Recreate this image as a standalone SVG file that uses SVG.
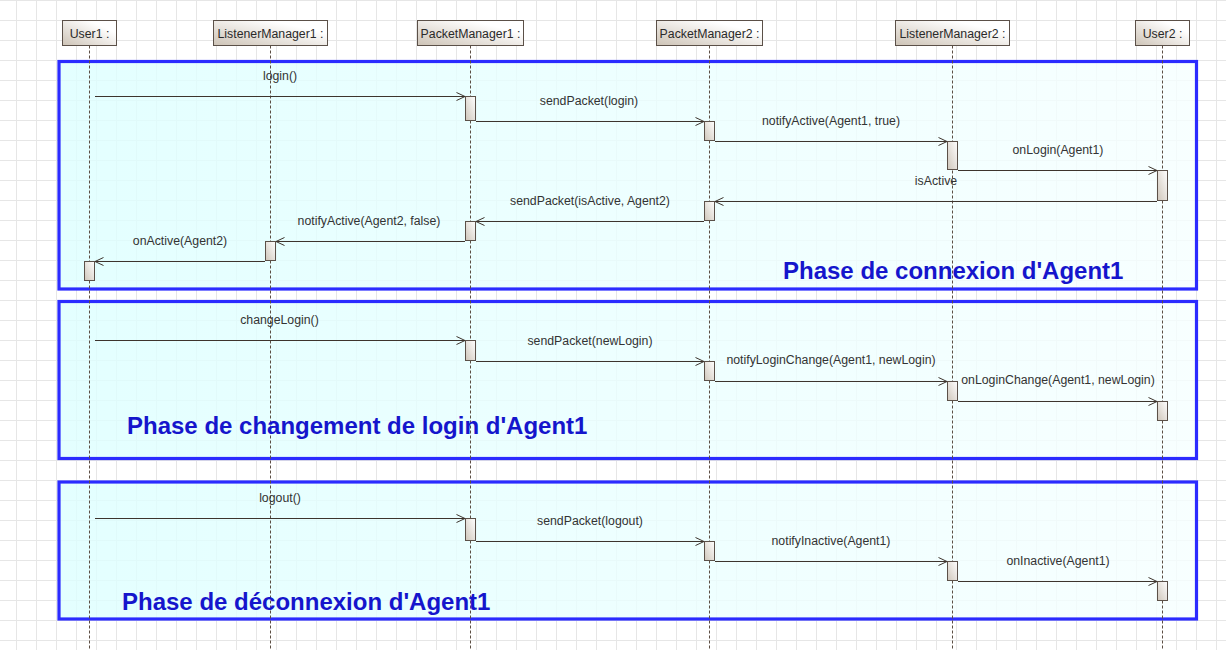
<svg xmlns="http://www.w3.org/2000/svg" width="1226" height="650" viewBox="0 0 1226 650">
<defs>
<pattern id="grid" x="16" y="0" width="20" height="20" patternUnits="userSpaceOnUse">
<path d="M0.5,0 V20 M0,0.5 H20" fill="none" stroke="#e6e6e6" stroke-width="1"/>
</pattern>
<linearGradient id="phaseFill" x1="0" y1="0" x2="1" y2="0">
<stop offset="0" stop-color="#ddffff"/>
<stop offset="1" stop-color="#f6ffff"/>
</linearGradient>
<linearGradient id="headFill" x1="0" y1="1" x2="1" y2="0">
<stop offset="0" stop-color="#cdc3b6"/>
<stop offset="0.75" stop-color="#ffffff"/>
<stop offset="1" stop-color="#ffffff"/>
</linearGradient>
<linearGradient id="actFill" x1="0" y1="1" x2="1" y2="0">
<stop offset="0" stop-color="#cfc6ba"/>
<stop offset="1" stop-color="#ffffff"/>
</linearGradient>
<marker id="arr" markerWidth="11" markerHeight="10" refX="9" refY="4.5" orient="auto" markerUnits="userSpaceOnUse">
<path d="M0.5,0.5 L9,4.5 L0.5,8.5" fill="none" stroke="#3d342d" stroke-width="1"/>
</marker>
</defs>
<style>
.head{fill:url(#headFill);stroke:#5b5048;stroke-width:1}
.headtxt{font-family:"Liberation Sans",Arial,sans-serif;font-size:12.3px;fill:#2a2a2a;text-anchor:middle}
.life{stroke:#5b4d42;stroke-width:1;stroke-dasharray:3,2;fill:none}
.phase{fill:url(#phaseFill);fill-opacity:0.82;stroke:#2b2bff;stroke-width:3.2}
.ptitle{font-family:"Liberation Sans",Arial,sans-serif;font-size:24px;font-weight:bold;fill:#1515cc}
.act{fill:url(#actFill);stroke:#5b5048;stroke-width:1}
.msg{stroke:#3d342d;stroke-width:1;fill:none;marker-end:url(#arr)}
.lbl{font-family:"Liberation Sans",Arial,sans-serif;font-size:12.3px;fill:#333;text-anchor:middle}
</style>
<rect x="0" y="0" width="1226" height="650" fill="#ffffff"/>
<rect x="0" y="0" width="1226" height="650" fill="url(#grid)"/>

<g id="phases">
<g id="phase1"><rect class="phase" x="59" y="61.5" width="1137.5" height="227.5"/></g>
<g id="phase2"><rect class="phase" x="59" y="301.5" width="1137.5" height="157"/></g>
<g id="phase3"><rect class="phase" x="59" y="482" width="1137.5" height="137"/></g>
</g>

<g id="lifelines">
<line class="life" x1="89.5" y1="45.5" x2="89.5" y2="650"/>
<line class="life" x1="270.5" y1="45.5" x2="270.5" y2="650"/>
<line class="life" x1="470.5" y1="45.5" x2="470.5" y2="650"/>
<line class="life" x1="709.5" y1="45.5" x2="709.5" y2="650"/>
<line class="life" x1="952.5" y1="45.5" x2="952.5" y2="650"/>
<line class="life" x1="1162.5" y1="45.5" x2="1162.5" y2="650"/>
</g>

<g id="User1">
<rect class="head" x="62.5" y="20.5" width="54" height="25"/>
<text class="headtxt" x="89.5" y="37.5">User1 :</text>
<rect class="act" x="84.5" y="261.5" width="10" height="19"/>
</g>
<g id="ListenerManager1">
<rect class="head" x="213.5" y="20.5" width="114" height="25"/>
<text class="headtxt" x="270.5" y="37.5">ListenerManager1 :</text>
<rect class="act" x="265.5" y="241.5" width="10" height="19"/>
</g>
<g id="PacketManager1">
<rect class="head" x="417.5" y="20.5" width="106" height="25"/>
<text class="headtxt" x="470.5" y="37.5">PacketManager1 :</text>
<rect class="act" x="465.5" y="96.5" width="10" height="24"/>
<rect class="act" x="465.5" y="221.5" width="10" height="19"/>
<rect class="act" x="465.5" y="340.5" width="10" height="20"/>
<rect class="act" x="465.5" y="518.5" width="10" height="22"/>
</g>
<g id="PacketManager2">
<rect class="head" x="656.5" y="20.5" width="106" height="25"/>
<text class="headtxt" x="709.5" y="37.5">PacketManager2 :</text>
<rect class="act" x="704.5" y="121.5" width="10" height="19"/>
<rect class="act" x="704.5" y="201.5" width="10" height="19"/>
<rect class="act" x="704.5" y="361.5" width="10" height="19"/>
<rect class="act" x="704.5" y="541.5" width="10" height="19"/>
</g>
<g id="ListenerManager2">
<rect class="head" x="895.5" y="20.5" width="114" height="25"/>
<text class="headtxt" x="952.5" y="37.5">ListenerManager2 :</text>
<rect class="act" x="947.5" y="141.5" width="10" height="28"/>
<rect class="act" x="947.5" y="381.5" width="10" height="19"/>
<rect class="act" x="947.5" y="561.5" width="10" height="19"/>
</g>
<g id="User2">
<rect class="head" x="1135.5" y="20.5" width="54" height="25"/>
<text class="headtxt" x="1162.5" y="37.5">User2 :</text>
<rect class="act" x="1157.5" y="170.5" width="10" height="30"/>
<rect class="act" x="1157.5" y="401.5" width="10" height="19"/>
<rect class="act" x="1157.5" y="581.5" width="10" height="19"/>
</g>

<g id="connectors">
<line class="msg" x1="95" y1="96.5" x2="465" y2="96.5"/>
<line class="msg" x1="476" y1="121.5" x2="704" y2="121.5"/>
<line class="msg" x1="715" y1="141.5" x2="947" y2="141.5"/>
<line class="msg" x1="958" y1="170.5" x2="1157" y2="170.5"/>
<line class="msg" x1="1157" y1="201.5" x2="715" y2="201.5"/>
<line class="msg" x1="704" y1="221.5" x2="476" y2="221.5"/>
<line class="msg" x1="465" y1="241.5" x2="276" y2="241.5"/>
<line class="msg" x1="265" y1="261.5" x2="95" y2="261.5"/>

<line class="msg" x1="95" y1="340.5" x2="465" y2="340.5"/>
<line class="msg" x1="476" y1="361.5" x2="704" y2="361.5"/>
<line class="msg" x1="715" y1="381.5" x2="947" y2="381.5"/>
<line class="msg" x1="958" y1="401.5" x2="1157" y2="401.5"/>

<line class="msg" x1="95" y1="518.5" x2="465" y2="518.5"/>
<line class="msg" x1="476" y1="541.5" x2="704" y2="541.5"/>
<line class="msg" x1="715" y1="561.5" x2="947" y2="561.5"/>
<line class="msg" x1="958" y1="581.5" x2="1157" y2="581.5"/>
</g>

<g id="labels">
<text class="lbl" x="280" y="80">login()</text>
<text class="lbl" x="589" y="105">sendPacket(login)</text>
<text class="lbl" x="831" y="125">notifyActive(Agent1, true)</text>
<text class="lbl" x="1058" y="154">onLogin(Agent1)</text>
<text class="lbl" x="936" y="185">isActive</text>
<text class="lbl" x="590" y="205">sendPacket(isActive, Agent2)</text>
<text class="lbl" x="369" y="225">notifyActive(Agent2, false)</text>
<text class="lbl" x="180" y="245">onActive(Agent2)</text>

<text class="lbl" x="279.5" y="324">changeLogin()</text>
<text class="lbl" x="590" y="345">sendPacket(newLogin)</text>
<text class="lbl" x="831" y="364">notifyLoginChange(Agent1, newLogin)</text>
<text class="lbl" x="1058" y="384">onLoginChange(Agent1, newLogin)</text>

<text class="lbl" x="280" y="502">logout()</text>
<text class="lbl" x="590" y="525">sendPacket(logout)</text>
<text class="lbl" x="831" y="545">notifyInactive(Agent1)</text>
<text class="lbl" x="1058" y="565">onInactive(Agent1)</text>
</g>

<g id="phase-titles">
<text class="ptitle" x="783" y="279">Phase de connexion d'Agent1</text>
<text class="ptitle" x="127" y="434">Phase de changement de login d'Agent1</text>
<text class="ptitle" x="122" y="610">Phase de déconnexion d'Agent1</text>
</g>
</svg>
